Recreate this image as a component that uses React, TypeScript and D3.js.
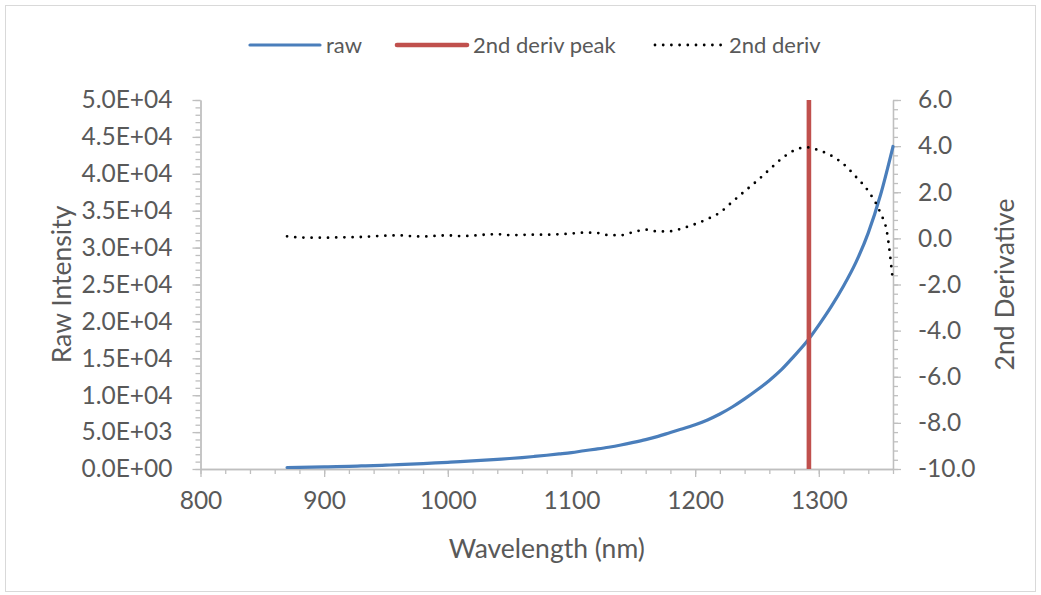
import React, { useEffect, useRef } from "react";
import * as d3 from "d3";

// raw spectrum, sampled every 10 nm
const WAVELENGTH = [
	870, 880, 890, 900, 910, 920, 930, 940, 950, 960, 970, 980, 990, 1000, 1010, 1020, 1030, 1040, 1050, 1060,
	1070, 1080, 1090, 1100, 1110, 1120, 1130, 1140, 1150, 1160, 1170, 1180, 1190, 1200, 1210, 1220, 1230, 1240,
	1250, 1260, 1270, 1280, 1290, 1300, 1310, 1320, 1330, 1340, 1350, 1360
];
const RAW = [
	200, 230, 260, 290, 320, 360, 410, 460, 520, 580, 650, 730, 820, 910, 1000, 1100, 1200, 1310, 1420, 1550,
	1700, 1860, 2040, 2230, 2470, 2700, 2950, 3250, 3600, 3980, 4420, 4950, 5450, 6000, 6650, 7450, 8400, 9500,
	10700, 12000, 13500, 15300, 17200, 19500, 22000, 24800, 28000, 32000, 37200, 43700
];

// second derivative (right axis)
const DERIV_WAVELENGTH = [
	870, 880, 890, 900, 910, 920, 930, 940, 950, 960, 970, 980, 990, 1000, 1010, 1020, 1030, 1040, 1050, 1060,
	1070, 1080, 1090, 1100, 1110, 1120, 1130, 1140, 1150, 1160, 1170, 1180, 1190, 1200, 1210, 1220, 1230, 1240,
	1250, 1260, 1270, 1280, 1290, 1300, 1310, 1320, 1330, 1340, 1350, 1355, 1360
];
const DERIV = [
	0.09, 0.04, 0.03, 0.03, 0.04, 0.05, 0.06, 0.09, 0.12, 0.13, 0.1, 0.08, 0.11, 0.13, 0.1, 0.12, 0.16, 0.18, 0.14,
	0.15, 0.16, 0.16, 0.18, 0.21, 0.25, 0.24, 0.14, 0.14, 0.27, 0.38, 0.3, 0.31, 0.44, 0.62, 0.84, 1.12, 1.58, 2.04,
	2.49, 2.98, 3.46, 3.81, 3.95, 3.82, 3.59, 3.22, 2.67, 2.05, 1.08, 0.3, -1.9
];

// vertical marker at the 2nd derivative peak
const PEAK_X = [1292, 1292];
const PEAK_Y = [0, 50000];

const LEGEND = ["raw", "2nd deriv peak", "2nd deriv"];

const W = 1041;
const H = 595;
const M = { left: 200.5, right: 893, top: 100, bottom: 469 };
const FONT = "Lato, 'Open Sans', sans-serif";
const TEXT = "#595959";
const AXIS = "#bfbfbf";
const BLUE = "#4a7ebb";
const RED = "#c0504d";

const sci = (v: number) => {
	if (v === 0) return "0.0E+00";
	const e = Math.floor(Math.log10(v));
	const m = v / Math.pow(10, e);
	return m.toFixed(1) + "E+" + String(e).padStart(2, "0");
};

export default function App() {
	const ref = useRef<SVGSVGElement>(null);

	useEffect(() => {
		const svg = d3.select(ref.current);
		svg.selectAll("*").remove();

		const x = d3.scaleLinear().domain([800, 1360]).range([M.left, M.right]);
		const yL = d3.scaleLinear().domain([0, 50000]).range([M.bottom, M.top]);
		const yR = d3.scaleLinear().domain([-10, 6]).range([M.bottom, M.top]);

		// chart border
		svg
			.append("rect")
			.attr("x", 5.5)
			.attr("y", 5.5)
			.attr("width", 1030)
			.attr("height", 586)
			.attr("fill", "#fff")
			.attr("stroke", "#d9d9d9");

		const styleAxis = (g: any) => {
			g.select(".domain").attr("stroke", AXIS).attr("stroke-width", 1.3);
			g.selectAll(".tick line").attr("stroke", AXIS).attr("stroke-width", 1.3);
			g.selectAll("text").attr("fill", TEXT).attr("font-family", FONT).attr("font-size", 24.5);
		};

		// x axis: minor then major
		const xMinor = svg
			.append("g")
			.attr("transform", `translate(0,${M.bottom})`)
			.call(d3.axisBottom(x).tickValues(d3.range(800, 1361, 20)).tickSize(5).tickFormat(() => "").tickSizeOuter(0));
		styleAxis(xMinor);
		const xMajor = svg
			.append("g")
			.attr("transform", `translate(0,${M.bottom})`)
			.call(
				d3
					.axisBottom(x)
					.tickValues(d3.range(800, 1301, 100))
					.tickSize(8)
					.tickPadding(15)
					.tickFormat(d3.format("d") as any)
					.tickSizeOuter(0)
			);
		styleAxis(xMajor);

		// left axis
		const lMinor = svg
			.append("g")
			.attr("transform", `translate(${M.left},0)`)
			.call(d3.axisLeft(yL).tickValues(d3.range(0, 50001, 1000)).tickSize(5).tickFormat(() => "").tickSizeOuter(0));
		styleAxis(lMinor);
		const lMajor = svg
			.append("g")
			.attr("transform", `translate(${M.left},0)`)
			.call(
				d3
					.axisLeft(yL)
					.tickValues(d3.range(0, 50001, 5000))
					.tickSize(8)
					.tickPadding(20)
					.tickFormat((d: any) => sci(d))
					.tickSizeOuter(0)
			);
		styleAxis(lMajor);

		// right axis
		const rMinor = svg
			.append("g")
			.attr("transform", `translate(${M.right},0)`)
			.call(d3.axisRight(yR).tickValues(d3.range(-10, 6.01, 0.4)).tickSize(5).tickFormat(() => "").tickSizeOuter(0));
		styleAxis(rMinor);
		const rMajor = svg
			.append("g")
			.attr("transform", `translate(${M.right},0)`)
			.call(
				d3
					.axisRight(yR)
					.tickValues(d3.range(-10, 6.01, 2))
					.tickSize(8)
					.tickPadding(17)
					.tickFormat((d: any) => (+d).toFixed(1))
					.tickSizeOuter(0)
			);
		styleAxis(rMajor);

		// series
		const rawLine = d3
			.line<number>()
			.x((d, i) => x(WAVELENGTH[i]))
			.y((d) => yL(d))
			.curve(d3.curveMonotoneX);
		svg
			.append("path")
			.attr("d", rawLine(RAW))
			.attr("fill", "none")
			.attr("stroke", BLUE)
			.attr("stroke-width", 3.2)
			.attr("stroke-linecap", "round");

		const peakLine = d3
			.line<number>()
			.x((d, i) => x(PEAK_X[i]))
			.y((d) => yL(d));
		svg
			.append("path")
			.attr("d", peakLine(PEAK_Y))
			.attr("fill", "none")
			.attr("stroke", RED)
			.attr("stroke-width", 4.6);

		const derivLine = d3
			.line<number>()
			.x((d, i) => x(DERIV_WAVELENGTH[i]))
			.y((d) => yR(d))
			.curve(d3.curveMonotoneX);
		svg
			.append("path")
			.attr("d", derivLine(DERIV))
			.attr("fill", "none")
			.attr("stroke", "#000")
			.attr("stroke-width", 2.8)
			.attr("stroke-linecap", "round")
			.attr("stroke-dasharray", "0 8.2");

		// axis titles
		const title = (t: string, tr: string) =>
			svg
				.append("text")
				.attr("transform", tr)
				.attr("text-anchor", "middle")
				.attr("fill", TEXT)
				.attr("font-family", FONT)
				.attr("font-size", 26.5)
				.text(t);
		title("Wavelength (nm)", `translate(${(M.left + M.right) / 2},558)`);
		title("Raw Intensity", `translate(71,${(M.top + M.bottom) / 2}) rotate(-90)`);
		title("2nd Derivative", `translate(1014,${(M.top + M.bottom) / 2}) rotate(-90)`);

		// legend
		const legendX = [250, 397, 653];
		const legend = svg.append("g").attr("transform", "translate(0,45)");
		LEGEND.forEach((name, i) => {
			const item = legend.append("g").attr("transform", `translate(${legendX[i]},0)`);
			const ln = item
				.append("line")
				.attr("x1", 0)
				.attr("x2", 70)
				.attr("y1", 0)
				.attr("y2", 0)
				.attr("stroke-linecap", "round");
			if (i === 0) ln.attr("stroke", BLUE).attr("stroke-width", 3.2);
			if (i === 1) ln.attr("stroke", RED).attr("stroke-width", 4.6);
			if (i === 2) ln.attr("stroke", "#000").attr("stroke-width", 2.8).attr("stroke-dasharray", "0 8.2").attr("x1", 2);
			item
				.append("text")
				.attr("x", 76)
				.attr("y", 0)
				.attr("dy", "0.35em")
				.attr("fill", TEXT)
				.attr("font-family", FONT)
				.attr("font-size", 22)
				.text(name);
		});
	}, []);

	return <svg ref={ref} width={W} height={H} style={{ position: "absolute", left: 0, top: 0, background: "#fff" }}></svg>;
}
